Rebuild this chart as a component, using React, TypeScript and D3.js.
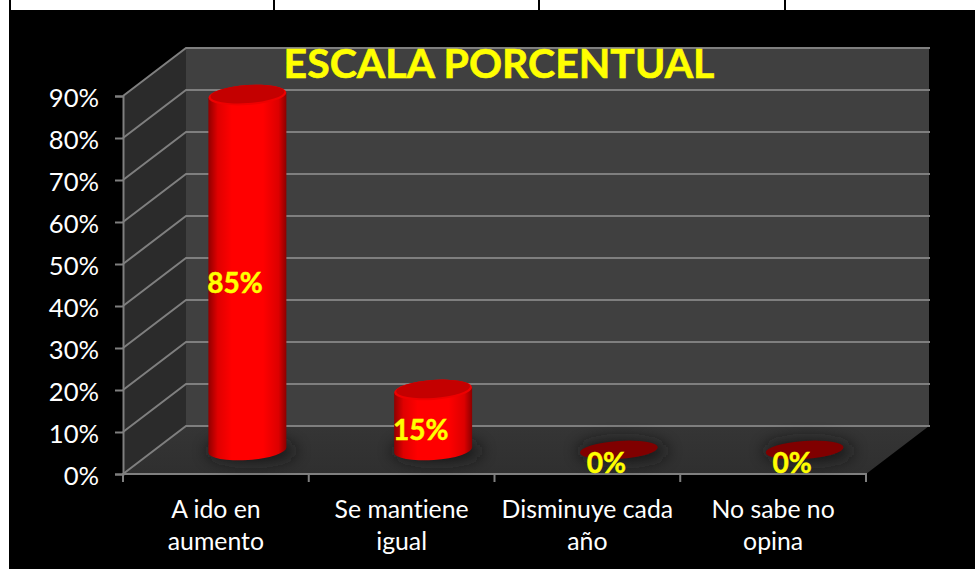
import React, { useEffect, useRef } from 'react';
import { select, scaleBand, scaleLinear, axisLeft, range } from 'd3';

const categories = [['A ido en', 'aumento'], ['Se mantiene', 'igual'], ['Disminuye cada', 'año'], ['No sabe no', 'opina']];
const categoryKeys = ['A ido en aumento', 'Se mantiene igual', 'Disminuye cada año', 'No sabe no opina'];
// bar heights as measured against the axis, labels as printed
const values = [84.5, 14.3, 0, 0];
const valueLabels = ['85%', '15%', '0%', '0%'];
const yTicks = [0, 10, 20, 30, 40, 50, 60, 70, 80, 90];

const WIDTH = 975;
const HEIGHT = 569;
const FONT = 'Lato, sans-serif';

export default function App() {
  const svgRef = useRef<SVGSVGElement | null>(null);

  useEffect(() => {
    const svg = select(svgRef.current);
    svg.selectAll('*').remove();
    svg.style('font-variant-ligatures', 'none');

    const depthX = 63;
    const depthY = -48;

    const xScale = scaleBand<string>().domain(categoryKeys).range([123, 866]);
    const yScale = scaleLinear().domain([0, 90]).range([474, 96]);
    // bars stand halfway into the depth of the floor
    const barScale = scaleLinear().domain([0, 90]).range([450, 72]);
    const barRx = 39;
    const barRy = 10;

    const defs = svg.append('defs');
    const grad = defs.append('linearGradient').attr('id', 'cyl');
    [[0, '#900000'], [0.12, '#e00000'], [0.3, '#ff0000'], [0.7, '#ff0000'], [0.9, '#dc0000'], [1, '#8c0000']].forEach(([o, c]) =>
      grad.append('stop').attr('offset', o).attr('stop-color', c as string));
    defs.append('filter').attr('id', 'blur').attr('x', '-50%').attr('y', '-150%').attr('width', '200%').attr('height', '400%')
      .append('feGaussianBlur').attr('stdDeviation', 8);
    const floorGrad = defs.append('linearGradient').attr('id', 'floor').attr('x1', 0).attr('x2', 0).attr('y1', 0).attr('y2', 1);
    floorGrad.append('stop').attr('offset', 0).attr('stop-color', '#353535');
    floorGrad.append('stop').attr('offset', 1).attr('stop-color', '#2f2f2f');

    // page behind the chart: table row above, black chart area
    svg.append('rect').attr('width', WIDTH).attr('height', HEIGHT).attr('fill', '#ffffff');
    svg.append('rect').attr('x', 9).attr('y', 0).attr('width', WIDTH - 9).attr('height', HEIGHT).attr('fill', '#000000');
    [[11, 273], [275, 538], [540, 784], [786, 975]].forEach(([a, b]) =>
      svg.append('rect').attr('x', a).attr('y', 0).attr('width', b - a).attr('height', 10).attr('fill', '#ffffff'));

    const y0 = yScale(0);
    const yTop = yScale(90);
    const xL = xScale.range()[0];
    const xR = xScale.range()[1];

    svg.append('polygon').attr('fill', '#2b2b2b')
      .attr('points', [[xL, y0], [xL + depthX, y0 + depthY], [xL + depthX, yTop + depthY], [xL, yTop]].join(' '));
    svg.append('rect').attr('x', xL + depthX).attr('y', yTop + depthY).attr('width', xR - xL).attr('height', y0 - yTop).attr('fill', '#404040');
    svg.append('polygon').attr('fill', 'url(#floor)')
      .attr('points', [[xL, y0], [xR, y0], [xR + depthX, y0 + depthY], [xL + depthX, y0 + depthY]].join(' '));

    const grid = svg.append('g').attr('stroke', '#7f7f7f').attr('stroke-width', 2).attr('fill', 'none');
    yTicks.forEach((t) => {
      const y = yScale(t);
      grid.append('polyline').attr('points', [[xL, y], [xL + depthX, y + depthY], [xR + depthX + 1, y + depthY]].join(' '));
    });

    const edges = range(categoryKeys.length + 1).map((i) => xL + i * xScale.step());
    svg.append('g').selectAll('line').data(edges).join('line')
      .attr('x1', (d) => d).attr('x2', (d) => d).attr('y1', y0).attr('y2', y0 + 8)
      .attr('stroke', '#7f7f7f').attr('stroke-width', 2);
    svg.append('line').attr('x1', xL - 1).attr('x2', xR + 1).attr('y1', y0).attr('y2', y0).attr('stroke', '#7f7f7f').attr('stroke-width', 2);

    const gy = svg.append('g').attr('transform', `translate(${xL},0)`)
      .call(axisLeft(yScale).tickValues(yTicks).tickSize(8).tickPadding(16).tickFormat((d) => `${d}%`));
    gy.selectAll('.domain').attr('stroke', '#7f7f7f').attr('stroke-width', 2);
    gy.selectAll('.tick line').attr('stroke', '#7f7f7f').attr('stroke-width', 2);
    gy.selectAll('.tick text').attr('fill', '#ffffff').attr('font-family', FONT).attr('font-size', 25.6).attr('dy', '0.4em');

    const bars = svg.append('g');
    categoryKeys.forEach((key, i) => {
      const cx = xScale(key)! + xScale.bandwidth() / 2 + depthX / 2;
      const base = barScale(0);
      const top = barScale(values[i]);
      const tilt = `rotate(-4 ${cx} `;

      bars.append('ellipse').attr('cx', cx + 4).attr('cy', base + 1).attr('rx', barRx + 6).attr('ry', barRy + 2)
        .attr('fill', '#161616').attr('opacity', 0.8).attr('filter', 'url(#blur)');

      if (values[i] === 0) {
        bars.append('ellipse').attr('cx', cx).attr('cy', base).attr('rx', barRx).attr('ry', barRy - 1)
          .attr('transform', `${tilt}${base})`).attr('fill', '#800000');
        return;
      }
      // body: tilted base and top ellipses joined by straight sides
      const r = (4 * Math.PI) / 180;
      const dy = barRx * Math.sin(r);
      bars.append('path').attr('fill', 'url(#cyl)')
        .attr('d', `M${cx - barRx},${top + dy} L${cx - barRx},${base + dy} A${barRx},${barRy} -4 0 0 ${cx + barRx},${base - dy} L${cx + barRx},${top - dy} Z`);
      bars.append('ellipse').attr('cx', cx).attr('cy', top).attr('rx', barRx).attr('ry', barRy)
        .attr('transform', `${tilt}${top})`).attr('fill', '#ee0000');
      bars.append('ellipse').attr('cx', cx).attr('cy', top - 1).attr('rx', barRx - 2).attr('ry', barRy - 1)
        .attr('transform', `${tilt}${top - 1})`).attr('fill', '#c40000');
    });

    // data labels sit on the front plane, a little left of the bar centre
    svg.append('g').selectAll('text').data(valueLabels).join('text')
      .attr('x', (_, i) => xScale(categoryKeys[i])! + xScale.bandwidth() / 2 + 19)
      .attr('y', (_, i) => (barScale(0) + barScale(values[i])) / 2 + 20 + (values[i] === 0 ? 3 : 0))
      .attr('text-anchor', 'middle').attr('fill', '#ffff00').attr('stroke', '#ffff00').attr('stroke-width', 0.5)
      .attr('font-family', FONT).attr('font-weight', 700).attr('font-size', 28).text((d) => d);

    const cats = svg.append('g').attr('fill', '#ffffff').attr('font-family', FONT).attr('font-size', 24.8).attr('text-anchor', 'middle');
    categories.forEach((lines, i) => {
      const cx = xScale(categoryKeys[i])! + xScale.bandwidth() / 2;
      lines.forEach((l, j) => {
        cats.append('text').attr('x', cx).attr('y', 518 + j * 32).text(l);
      });
    });

    svg.append('text').attr('x', 499).attr('y', 77.5).attr('text-anchor', 'middle').attr('fill', '#ffff00')
      .attr('stroke', '#ffff00').attr('stroke-width', 0.6)
      .attr('font-family', FONT).attr('font-weight', 700).attr('font-size', 41).text('ESCALA PORCENTUAL');
  }, []);

  return <svg ref={svgRef} width={WIDTH} height={HEIGHT} style={{ position: 'fixed', left: 0, top: 0, display: 'block' }} />;
}
